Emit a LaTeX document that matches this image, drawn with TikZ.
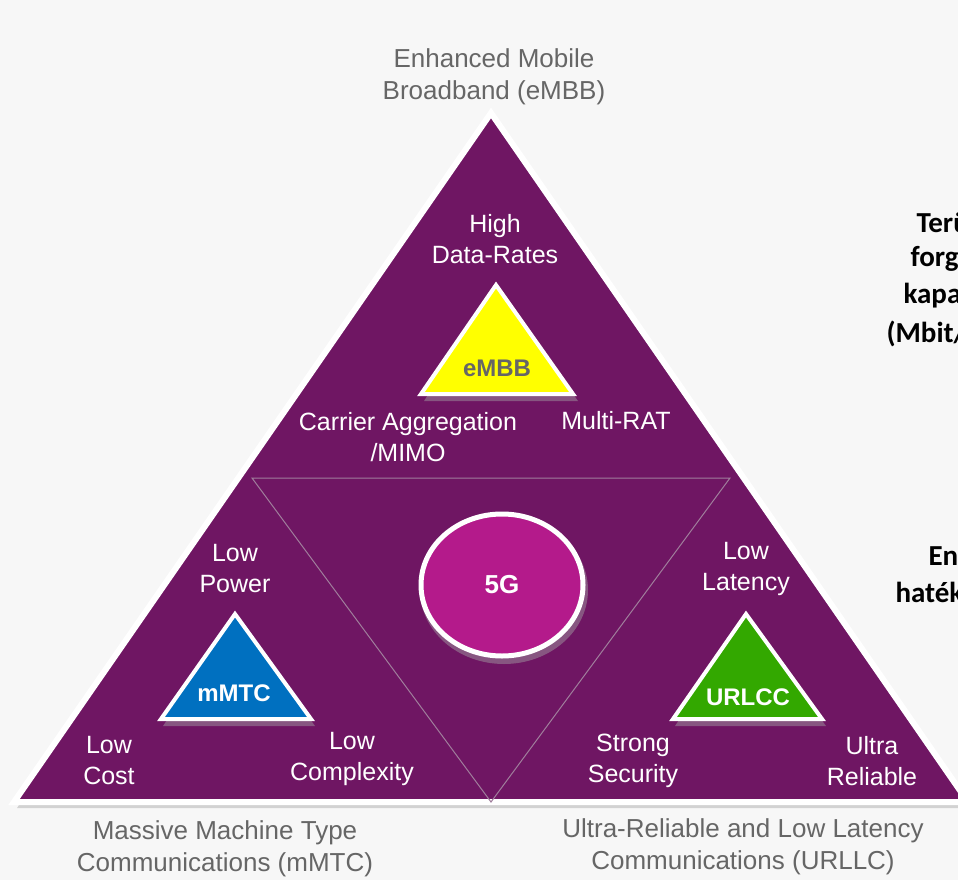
\documentclass[tikz,border=0pt]{standalone}
\usepackage{fontspec}
\usetikzlibrary{shapes.geometric}
\setmainfont{Liberation Sans}
\newfontfamily\calib{Carlito}
\definecolor{bgc}{HTML}{F7F7F7}
\definecolor{purp}{HTML}{6F1663}
\definecolor{mag}{HTML}{B41A8B}
\definecolor{yel}{HTML}{FFFF00}
\definecolor{blu}{HTML}{0070C0}
\definecolor{grn}{HTML}{33A800}
\definecolor{gtxt}{HTML}{666666}
\definecolor{inln}{HTML}{A07E9C}
\begin{document}
\begin{tikzpicture}[x=1pt,y=-1pt,
  wlab/.style={text=white,align=center,font=\fontsize{25}{31}\selectfont},
  glab/.style={text=gtxt,align=center,font=\fontsize{26}{32}\selectfont},
  blab/.style={text=black,anchor=west,font=\calib\bfseries\fontsize{29}{37}\selectfont},
  tri/.style={draw=white,line width=4pt,line join=miter},
  shad/.style={fill=black!35,opacity=0.45,draw=none},
  tlab/.style={font=\bfseries\fontsize{24}{28}\selectfont}]
\useasboundingbox (0,0) rectangle (958,880);
\clip (0,0) rectangle (958,880);
\fill[bgc] (0,0) rectangle (958,880);
% big triangle
\coordinate (A) at (491,113);
\coordinate (L) at (14,802);
\coordinate (R) at (968,802);
\coordinate (ML) at (252,478);
\coordinate (MR) at (730,478);
\coordinate (MB) at (491,802);
\fill[shad] ([shift={(3,6)}]A) -- ([shift={(3,6)}]L) -- ([shift={(3,6)}]R) -- cycle;
\draw[tri,line width=6pt,fill=purp] (A) -- (L) -- (R) -- cycle;
\draw[inln,line width=1pt] (ML) -- (MR) -- (MB) -- cycle;
% 5G circle
\fill[shad] (504,590) ellipse [x radius=84,y radius=74];
\node[draw=white,line width=5pt,fill=mag,ellipse,minimum width=162pt,minimum height=142pt,inner sep=0pt,
  text=white,font=\bfseries\fontsize{26}{30}\selectfont] (c5) at (502,585) {5G};
% small triangles
\fill[shad] (498,289) -- (424,401) -- (578,401) -- cycle;
\draw[tri,fill=yel] (496,285) -- (421,394) -- (573,394) -- cycle;
\node[tlab,text=gtxt] (te) at (497,368) {eMBB};
\fill[shad] (237,618) -- (163,726) -- (315,726) -- cycle;
\draw[tri,fill=blu] (235,614) -- (161,719) -- (311,719) -- cycle;
\node[tlab,text=white] (tm) at (234,693) {mMTC};
\fill[shad] (748,618) -- (675,726) -- (826,726) -- cycle;
\draw[tri,fill=grn] (746,614) -- (673,719) -- (822,719) -- cycle;
\node[tlab,text=white] (tu) at (748,697) {URLCC};
% white labels
\node[wlab] (hd) at (495,239) {High\\Data-Rates};
\node[wlab] (ca) at (408,437) {Carrier Aggregation\\/MIMO};
\node[wlab] (mr) at (616,421) {Multi-RAT};
\node[wlab] (lp) at (235,569) {Low\\Power};
\node[wlab] (lc) at (109,761) {Low\\Cost};
\node[wlab] (lx) at (352,759) {Low\\Complexity};
\node[wlab] (ll) at (746,569) {Low\\Latency};
\node[wlab] (ss) at (633,761) {Strong\\Security};
\node[wlab] (ur) at (872,761) {Ultra\\Reliable};
% gray labels
\node[glab] (t1) at (494,77) {Enhanced Mobile\\Broadband (eMBB)};
\node[glab] (t2) at (225,849) {Massive Machine Type\\Communications (mMTC)};
\node[glab] (t3) at (743,847) {Ultra-Reliable and Low Latency\\Communications (URLLC)};
% right-side cut text
\node[blab] (r1) at (913,222) {Területi};
\node[blab] (r2) at (907,259) {forgalmi};
\node[blab] (r3) at (900,296) {kapacitás};
\node[blab] (r4) at (883,333) {(Mbit/s/m²)};
\node[blab] (r5) at (925,558) {Energia};
\node[blab] (r6) at (892,595) {hatékonyság};
\end{tikzpicture}
\end{document}
